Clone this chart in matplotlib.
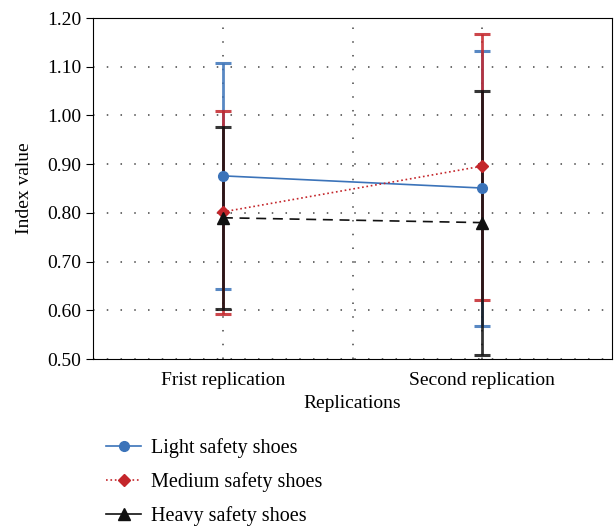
import matplotlib.pyplot as plt
from matplotlib.lines import Line2D
import numpy as np

plt.rcParams['font.family'] = ['Liberation Serif', 'DejaVu Serif']

categories = ['Frist replication', 'Second replication']
light = [0.876, 0.851]
light_hi = [1.108, 1.132]
light_lo = [0.644, 0.568]
medium = [0.802, 0.896]
medium_hi = [1.009, 1.167]
medium_lo = [0.592, 0.621]
heavy = [0.790, 0.780]
heavy_hi = [0.976, 1.050]
heavy_lo = [0.603, 0.508]

x = np.array([1, 2])

fig = plt.figure(figsize=(6.15, 5.3), dpi=100)
ax = fig.add_axes([0.1515, 0.3226, 0.8435, 0.6434])

series = [
    ('Light safety shoes', light, light_lo, light_hi, '#3b73b9', '-', 'o', 7),
    ('Medium safety shoes', medium, medium_lo, medium_hi, '#c4262b', ':', 'D', 6),
    ('Heavy safety shoes', heavy, heavy_lo, heavy_hi, '#111111', (0, (6, 4)), '^', 8),
]

handles = []
for name, vals, lo, hi, col, ls, mk, ms in series:
    vals = np.array(vals)
    err = [vals - np.array(lo), np.array(hi) - vals]
    ax.errorbar(x, vals, yerr=err, fmt='none', ecolor=col, elinewidth=2,
                capsize=6, capthick=2.2, alpha=0.85, zorder=2)
    ax.plot(x, vals, color=col, linestyle=ls, linewidth=1.2,
            marker=mk, markersize=ms, zorder=3)
    leg_ls = '-' if name.startswith('Heavy') else ls
    handles.append(Line2D([], [], color=col, linestyle=leg_ls, linewidth=1.2,
                          marker=mk, markersize=ms, label=name))

ax.set_xlim(0.5, 2.5)
ax.set_ylim(0.5, 1.2)
ax.set_xticks(x)
ax.set_xticklabels(categories, fontsize=14)
ax.set_xticks([1.5], minor=True)
ax.set_yticks(np.arange(0.5, 1.201, 0.1))
ax.set_yticklabels([f'{v:.2f}' for v in np.arange(0.5, 1.201, 0.1)], fontsize=14)
ax.tick_params(axis='y', direction='out', length=5)
ax.tick_params(axis='x', which='both', length=0, pad=9)
ax.grid(True, which='both', linestyle=(0, (1, 8)), color='#444444', linewidth=1.1)
ax.set_axisbelow(True)
ax.set_xlabel('Replications', fontsize=14, labelpad=5)
ax.set_ylabel('Index value', fontsize=14, labelpad=10)

fig.legend(handles=handles, loc='upper left', bbox_to_anchor=(0.16, 0.188),
           frameon=False, fontsize=14.5, handlelength=1.7, handletextpad=0.5,
           labelspacing=0.7, borderaxespad=0)

fig.savefig('out.png', dpi=100)
